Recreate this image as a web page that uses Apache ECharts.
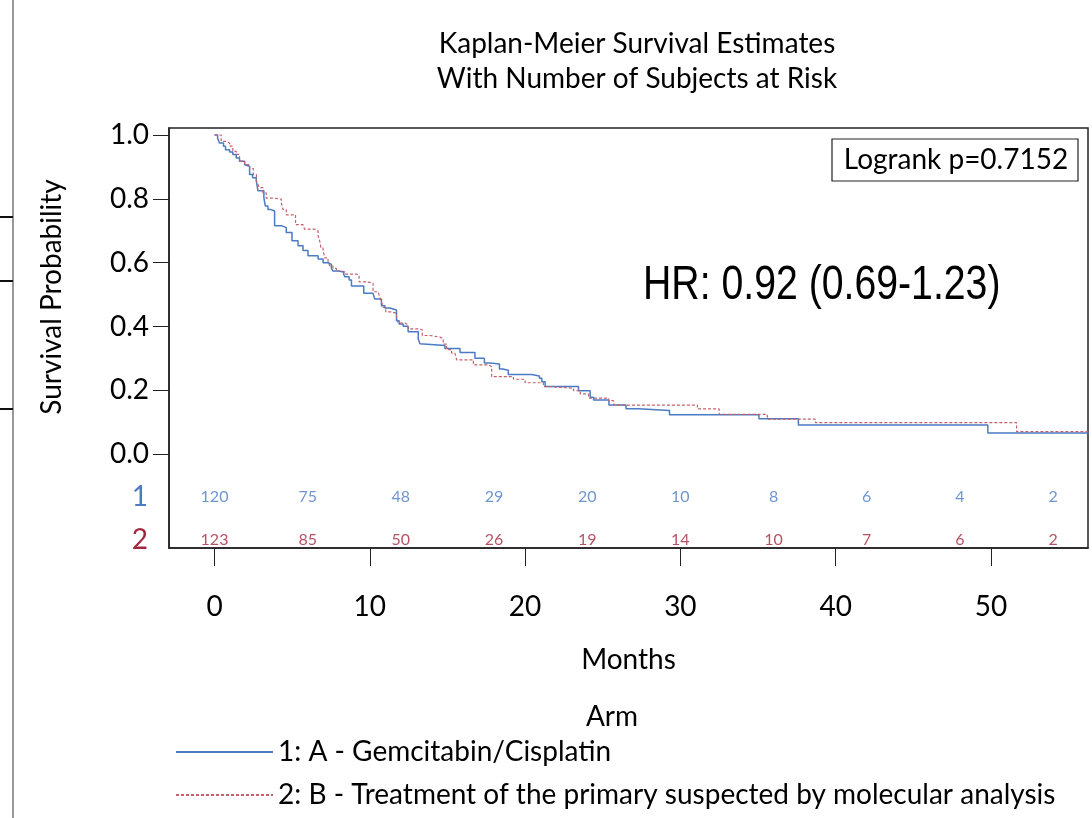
<!DOCTYPE html>
<html>
<head>
<meta charset="utf-8">
<script src="https://cdn.jsdelivr.net/npm/echarts@6/dist/echarts.min.js"></script>
<style>
  html, body { margin: 0; padding: 0; background: #fff; }
  #kmDiv { width: 1092px; height: 818px; }
</style>
</head>
<body>
<div id="kmDiv"></div>
<script>
// Kaplan-Meier steps: [month of drop, survival after the drop]
var armA = [
  [0, 1.0], [0.2, 0.99], [0.32, 0.975], [0.58, 0.965], [0.71, 0.954], [0.97, 0.947],
  [1.18, 0.939], [1.4, 0.928], [1.61, 0.918], [1.94, 0.907], [2.05, 0.902], [2.26, 0.876],
  [2.45, 0.866], [2.69, 0.856], [2.8, 0.825], [3.18, 0.804], [3.27, 0.778], [3.44, 0.767],
  [3.6, 0.762], [3.87, 0.716], [4.3, 0.71], [4.62, 0.695], [4.99, 0.669], [5.38, 0.653],
  [5.7, 0.638], [6.02, 0.622], [6.67, 0.612], [6.99, 0.6], [7.31, 0.595], [7.53, 0.582],
  [7.63, 0.574], [7.96, 0.571], [8.32, 0.564], [8.39, 0.556], [8.67, 0.546], [8.82, 0.527],
  [9.61, 0.504], [10.21, 0.499], [10.32, 0.486], [10.75, 0.465], [10.97, 0.458], [11.29, 0.452],
  [11.72, 0.418], [11.89, 0.408], [12.15, 0.401], [12.47, 0.384], [13.12, 0.361], [13.23, 0.346],
  [13.33, 0.341], [14.84, 0.331], [15.81, 0.319], [16.77, 0.301], [17.38, 0.286], [17.74, 0.283],
  [18.35, 0.267], [18.56, 0.263], [18.92, 0.25], [20.43, 0.245], [20.92, 0.238], [21.08, 0.227],
  [21.29, 0.212], [23.44, 0.199], [24.19, 0.179], [24.41, 0.17], [25.4, 0.154], [26.5, 0.143],
  [27.3, 0.137], [29.3, 0.124], [35.06, 0.111], [37.6, 0.092], [49.8, 0.067], [56.3, 0.067]
];
var armB = [
  [0, 1.0], [0.43, 0.98], [0.75, 0.975], [0.97, 0.965], [1.18, 0.949], [1.4, 0.939],
  [1.61, 0.918], [1.94, 0.907], [2.26, 0.895], [2.5, 0.876], [2.7, 0.856], [2.8, 0.845],
  [2.9, 0.835], [3.12, 0.819], [3.33, 0.802], [3.87, 0.799], [4.3, 0.788], [4.41, 0.767],
  [4.62, 0.75], [5.22, 0.719], [5.7, 0.716], [5.8, 0.705], [6.45, 0.7], [6.67, 0.684],
  [6.77, 0.669], [6.85, 0.648], [6.99, 0.638], [7.1, 0.615], [7.31, 0.605], [7.42, 0.59],
  [7.63, 0.582], [7.85, 0.574], [8.24, 0.571], [8.39, 0.564], [9.18, 0.562], [9.31, 0.54],
  [9.78, 0.536], [10.21, 0.509], [10.54, 0.505], [10.65, 0.491], [10.75, 0.478], [10.86, 0.46],
  [11.03, 0.446], [11.4, 0.442], [11.72, 0.432], [11.83, 0.411], [12.26, 0.405], [12.47, 0.393],
  [13.23, 0.389], [13.38, 0.372], [13.87, 0.367], [14.52, 0.362], [14.73, 0.345], [14.95, 0.328],
  [15.27, 0.317], [15.48, 0.312], [15.59, 0.296], [16.67, 0.28], [17.63, 0.275], [17.85, 0.243],
  [19.25, 0.235], [20.0, 0.224], [21.18, 0.212], [21.61, 0.207], [23.12, 0.199], [23.55, 0.189],
  [24.09, 0.176], [25.38, 0.168], [25.7, 0.154], [31.1, 0.142], [32.5, 0.125], [35.6, 0.11],
  [38.7, 0.099], [51.65, 0.071], [56.3, 0.071]
];

// numbers at risk
var riskTimes = [0, 6, 12, 18, 24, 30, 36, 42, 48, 54];
var riskA = [120, 75, 48, 29, 20, 10, 8, 6, 4, 2];
var riskB = [123, 85, 50, 26, 19, 14, 10, 7, 6, 2];

var yTicks = [0, 0.2, 0.4, 0.6, 0.8, 1.0];
var xTicks = [0, 10, 20, 30, 40, 50];

var nameA = '1: A - Gemcitabin/Cisplatin';
var nameB = '2: B - Treatment of the primary suspected by molecular analysis';

var FONT = 'Lato, "Open Sans", sans-serif';
var blue = '#4a7bc4';
var red = '#c4606e';
var redText = '#a3283f';

// rows of the risk table sit below 0 on the y scale
var rowA = -0.134;
var rowB = -0.268;

function riskData(counts, row) {
    return riskTimes.map(function (t, i) { return [t, row, counts[i]]; });
}

var kmChart = echarts.init(document.getElementById('kmDiv'));

var kmOption = {
    animation: false,
    textStyle: { fontFamily: FONT, color: '#000' },
    title: {
        text: 'Kaplan-Meier Survival Estimates\nWith Number of Subjects at Risk',
        left: 632,
        top: 21,
        textAlign: 'center',
        textStyle: { fontFamily: FONT, fontSize: 28, fontWeight: 'normal', color: '#000', lineHeight: 35 }
    },
    grid: {
        left: 169, right: 4, top: 128, bottom: 270,
        show: true, borderColor: '#222', borderWidth: 1.5
    },
    legend: {
        data: [nameA, nameB],
        orient: 'vertical',
        left: 175,
        top: 737,
        padding: 0,
        itemWidth: 97,
        itemHeight: 14,
        itemGap: 13,
        itemStyle: { opacity: 0 },
        textStyle: { fontFamily: FONT, fontSize: 28, color: '#000', lineHeight: 30 }
    },
    xAxis: {
        type: 'value',
        min: -2.93,
        max: 56.25,
        name: 'Months',
        nameLocation: 'middle',
        nameGap: 98,
        nameTextStyle: { fontFamily: FONT, fontSize: 28, color: '#000' },
        axisLine: { onZero: false, lineStyle: { color: '#222', width: 1.5 } },
        axisTick: { customValues: xTicks, length: 18, lineStyle: { color: '#222' } },
        axisLabel: { customValues: xTicks, margin: 45, fontFamily: FONT, fontSize: 28, color: '#000' },
        splitLine: { show: false }
    },
    yAxis: {
        type: 'value',
        min: -0.2935,
        max: 1.0219,
        axisLine: { show: true, onZero: false, lineStyle: { color: '#222', width: 1.5 } },
        axisTick: { customValues: yTicks, length: 16, lineStyle: { color: '#222' } },
        axisLabel: {
            customValues: yTicks, margin: 20, fontFamily: FONT, fontSize: 28, color: '#000',
            formatter: function (v) { return v.toFixed(1); }
        },
        splitLine: { show: false }
    },
    graphic: [
        // left edge of the cropped page
        { type: 'line', shape: { x1: 13, y1: 0, x2: 13, y2: 818 }, style: { stroke: '#777', lineWidth: 1.5 } },
        { type: 'line', shape: { x1: 0, y1: 217, x2: 13, y2: 217 }, style: { stroke: '#111', lineWidth: 2 } },
        { type: 'line', shape: { x1: 0, y1: 281, x2: 13, y2: 281 }, style: { stroke: '#111', lineWidth: 2 } },
        { type: 'line', shape: { x1: 0, y1: 409, x2: 13, y2: 409 }, style: { stroke: '#111', lineWidth: 2 } },
        {
            type: 'text', x: 52, y: 297, rotation: Math.PI / 2,
            style: { text: 'Survival Probability', fontFamily: FONT, fontSize: 28, fill: '#000', align: 'center', verticalAlign: 'middle' }
        },
        { type: 'text', x: 148, y: 497, style: { text: '1', fontFamily: FONT, fontSize: 28, fill: blue, align: 'right', verticalAlign: 'middle' } },
        { type: 'text', x: 148, y: 540, style: { text: '2', fontFamily: FONT, fontSize: 28, fill: redText, align: 'right', verticalAlign: 'middle' } },
        { type: 'rect', shape: { x: 832, y: 139, width: 246, height: 42 }, style: { fill: '#fff', stroke: '#222', lineWidth: 1.2 } },
        { type: 'text', x: 956, y: 160, style: { text: 'Logrank p=0.7152', fontFamily: FONT, fontSize: 28, fill: '#000', align: 'center', verticalAlign: 'middle' } },
        {
            type: 'text', x: 643, y: 286, scaleX: 0.817,
            style: { text: 'HR: 0.92 (0.69-1.23)', fontFamily: '"Liberation Sans", Arial, sans-serif', fontSize: 48, fill: '#000', align: 'left', verticalAlign: 'middle' }
        },
        { type: 'text', x: 612, y: 717, style: { text: 'Arm', fontFamily: FONT, fontSize: 28, fill: '#000', align: 'center', verticalAlign: 'middle' } }
    ],
    series: [
        {
            name: nameA,
            type: 'line',
            step: 'end',
            symbol: 'none',
            data: armA,
            lineStyle: { color: blue, width: 1.5 },
            itemStyle: { color: blue }
        },
        {
            name: nameB,
            type: 'line',
            step: 'end',
            symbol: 'none',
            data: armB,
            lineStyle: { color: red, width: 1.2, type: [3, 2] },
            itemStyle: { color: red }
        },
        {
            type: 'scatter',
            symbolSize: 0,
            data: riskData(riskA, rowA),
            label: { show: true, position: 'inside', formatter: function (p) { return p.value[2]; }, fontFamily: FONT, fontSize: 16, color: blue }
        },
        {
            type: 'scatter',
            symbolSize: 0,
            data: riskData(riskB, rowB),
            label: { show: true, position: 'inside', formatter: function (p) { return p.value[2]; }, fontFamily: FONT, fontSize: 16, color: redText }
        }
    ]
};

kmChart.setOption(kmOption);
</script>
</body>
</html>
